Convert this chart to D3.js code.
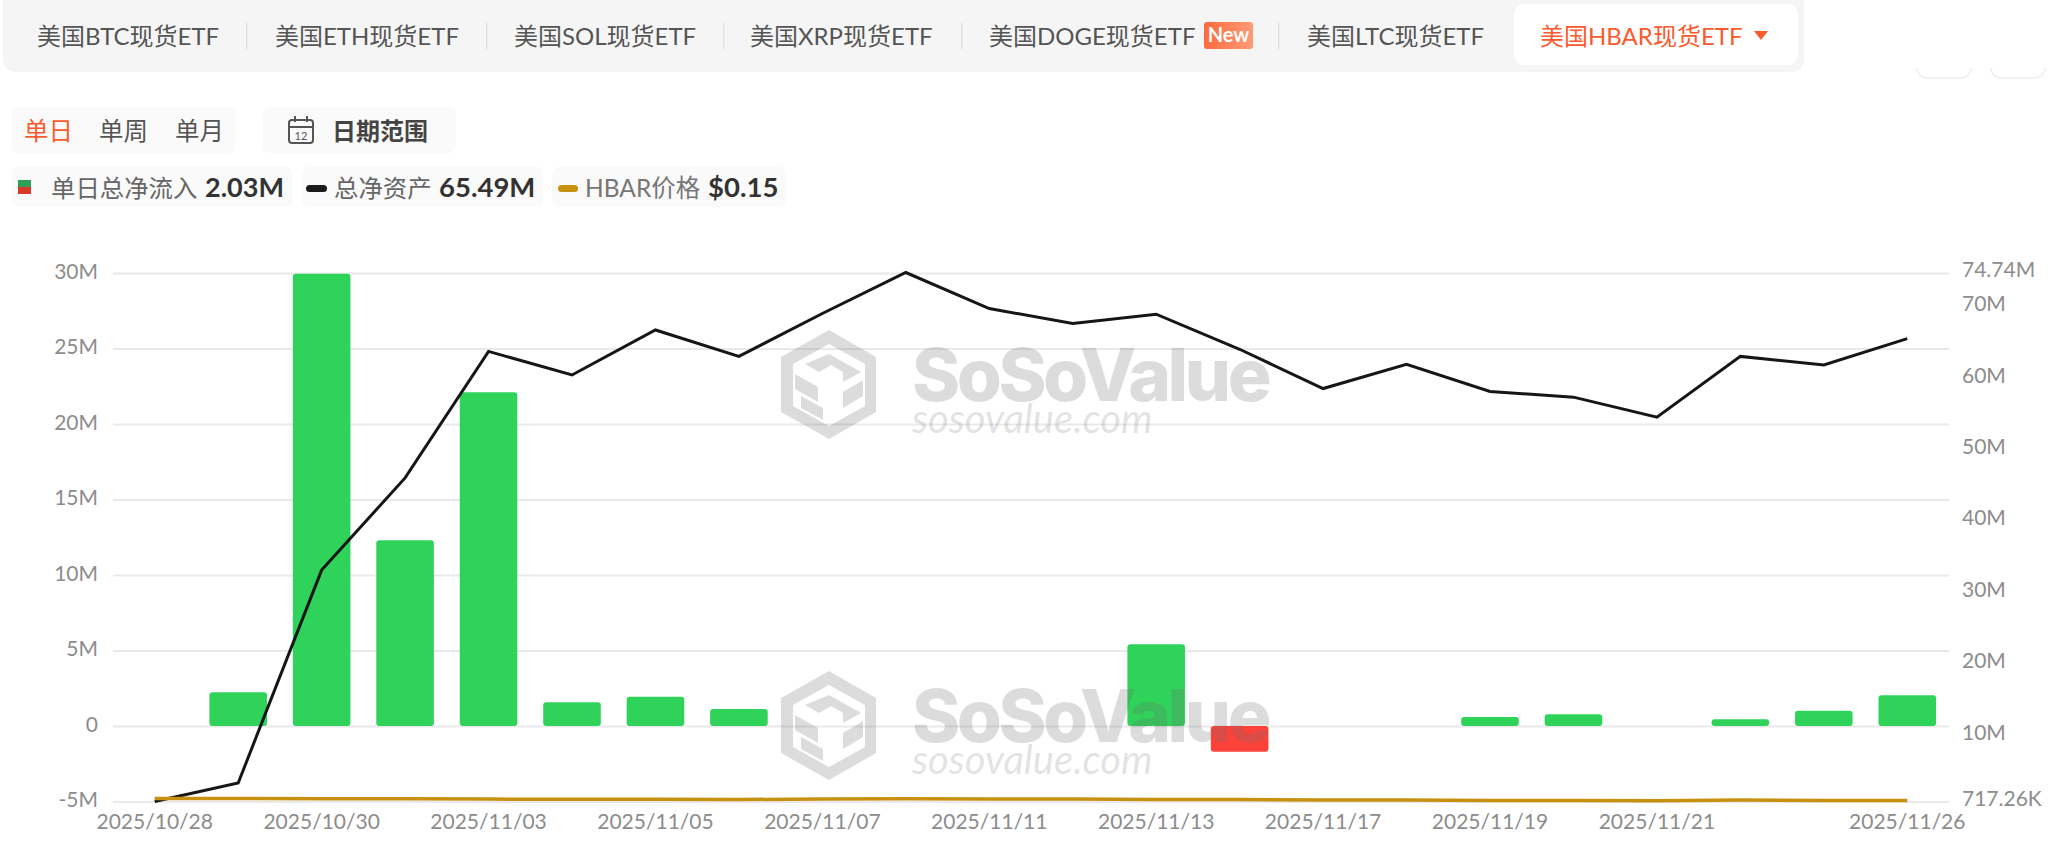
<!DOCTYPE html>
<html><head><meta charset="utf-8">
<style>
html,body{margin:0;padding:0;background:#fff;}
svg{display:block;font-family:Lato,"Noto Sans CJK SC",sans-serif;}
</style>
<script src="https://cdn.jsdelivr.net/npm/d3@7"></script>
</head><body>
<svg id="c" width="2048" height="848"></svg>
<script>
const dates=["2025/10/28","2025/10/29","2025/10/30","2025/10/31","2025/11/03","2025/11/04","2025/11/05","2025/11/06","2025/11/07","2025/11/10","2025/11/11","2025/11/12","2025/11/13","2025/11/14","2025/11/17","2025/11/18","2025/11/19","2025/11/20","2025/11/21","2025/11/24","2025/11/25","2025/11/26"];
const netInflow=[0,2.23,29.95,12.3,22.1,1.57,1.94,1.13,0,0,0,0,5.41,-1.7,0,0,0.6,0.77,0,0.44,1.01,2.03];
const netAssets=[0.72,3.3,33.1,46,63.7,60.4,66.7,63,69,74.74,69.7,67.6,68.9,64,58.5,61.9,58.1,57.3,54.5,63,61.8,65.49];
const hbarPrice=[0.19,0.188,0.186,0.187,0.182,0.18,0.181,0.178,0.182,0.186,0.183,0.183,0.179,0.177,0.172,0.173,0.168,0.167,0.163,0.172,0.168,0.166];
const xTickLabels=["2025/10/28","2025/10/30","2025/11/03","2025/11/05","2025/11/07","2025/11/11","2025/11/13","2025/11/17","2025/11/19","2025/11/21","2025/11/26"];
const leftTicks=[-5,0,5,10,15,20,25,30];
const rightTicks=[0.71726,10,20,30,40,50,60,70,74.74];
const tabs=["美国BTC现货ETF","美国ETH现货ETF","美国SOL现货ETF","美国XRP现货ETF","美国DOGE现货ETF","美国LTC现货ETF","美国HBAR现货ETF"];
const tabX=[37,275,514,750,989,1307,1540];
const sepX=[246,486,723,961,1278];
const periods=["单日","单周","单月"];
const periodX=[24,99,175];

const svg=d3.select("#c");
const GRAY="#555",AX="#8c8c8c",OR="#fb5a2e";
const defs=svg.append("defs");
const g=defs.append("linearGradient").attr("id","badge").attr("x1",0).attr("x2",1).attr("y1",0).attr("y2",0);
g.append("stop").attr("offset",0).attr("stop-color","#fd6b3d");
g.append("stop").attr("offset",1).attr("stop-color","#ff9a76");

// tab bar
svg.append("path").attr("d","M3 0H1804V60a12 12 0 0 1-12 12H15a12 12 0 0 1-12-12Z").attr("fill","#f5f5f5");
svg.append("rect").attr("x",1514).attr("y",4).attr("width",284).attr("height",61).attr("rx",10).attr("fill","#fff");
tabs.forEach((t,i)=>svg.append("text").attr("x",tabX[i]).attr("y",45).attr("font-size",24).attr("fill",i===6?OR:GRAY).text(t));
svg.selectAll(".sep").data(sepX).join("rect").attr("x",d=>d).attr("y",23).attr("width",1.5).attr("height",26).attr("fill","#e2e2e2");
svg.append("rect").attr("x",1204).attr("y",22).attr("width",49).attr("height",27).attr("rx",3).attr("fill","url(#badge)");
svg.append("text").attr("x",1228.5).attr("y",42).attr("text-anchor","middle").attr("font-size",20).attr("font-weight",700).attr("fill","#fff").text("New");
svg.append("path").attr("d","M1754 31H1768L1761 40Z").attr("fill",OR);
[1917,1991].forEach(x=>svg.append("path").attr("d",`M${x} 70v-2a10 10 0 0 0 10 10h34a10 10 0 0 0 10-10v2`).attr("fill","none").attr("stroke","#eee").attr("stroke-width",1.5));

// period buttons
svg.append("rect").attr("x",12).attr("y",107).attr("width",223).attr("height",46).attr("rx",7).attr("fill","#fafafa");
svg.append("rect").attr("x",263).attr("y",107).attr("width",193).attr("height",46).attr("rx",7).attr("fill","#fafafa");
periods.forEach((p,i)=>svg.append("text").attr("x",periodX[i]).attr("y",140).attr("font-size",24.5).attr("fill",i===0?OR:GRAY).text(p));
const cal=svg.append("g").attr("fill","none").attr("stroke","#555").attr("stroke-width",2);
cal.append("rect").attr("x",289).attr("y",120).attr("width",24).attr("height",23).attr("rx",3);
cal.append("path").attr("d","M289 127H313M295 116V122M307 116V122");
svg.append("text").attr("x",301).attr("y",140).attr("text-anchor","middle").attr("font-size",11).attr("fill","#555").text("12");
svg.append("text").attr("x",332).attr("y",140).attr("font-size",24).attr("font-weight",700).attr("fill","#444").text("日期范围");

// legend
[[12,281],[302,241],[552,234]].forEach(([x,w])=>svg.append("rect").attr("x",x).attr("y",167).attr("width",w).attr("height",40).attr("rx",7).attr("fill","#fafafa"));
svg.append("rect").attr("x",18).attr("y",180).attr("width",13).attr("height",7).attr("fill","#2f9e58");
svg.append("rect").attr("x",18).attr("y",187).attr("width",13).attr("height",7).attr("fill","#d8392b");
svg.append("rect").attr("x",306).attr("y",185).attr("width",21).attr("height",7).attr("rx",3.5).attr("fill","#1a1a1a");
svg.append("rect").attr("x",558).attr("y",185).attr("width",20).attr("height",7).attr("rx",3.5).attr("fill","#c8900f");
[[51,"单日总净流入",24.4,400,"#666"],[205,"2.03M",27,700,"#333"],[334,"总净资产",24.4,400,"#666"],[439,"65.49M",27.5,700,"#333"],[585,"HBAR价格",24.5,400,"#777"],[708,"$0.15",27.5,700,"#333"]]
 .forEach(([x,t,s,w,c])=>svg.append("text").attr("x",x).attr("y",197).attr("font-size",s).attr("font-weight",w).attr("fill",c).text(t));

// chart
const x=d3.scaleBand().domain(dates).range([113,1949]).paddingInner(0.31).paddingOuter(0.155);
const cx=d=>x(d)+x.bandwidth()/2;
const yL=d3.scaleLinear().domain([-5,30]).range([801.5,273]);
const yR=d3.scaleLinear().domain([0.71726,74.74]).range([801.5,272.5]);
const yP=d3.scaleLinear().domain([0.15,0.2]).range([802,797.5]);

const axL=svg.append("g").attr("transform","translate(113,0)")
 .call(d3.axisLeft(yL).tickValues(leftTicks).tickSize(-1836).tickPadding(15).tickFormat(d=>d===0?"0":d+"M"));
axL.select(".domain").remove();
axL.selectAll("line").attr("stroke","#e9e9ec").attr("stroke-width",2);
axL.selectAll("text").attr("font-size",21).attr("fill",AX).attr("font-family","Lato").attr("dy","0.26em");

const axR=svg.append("g").attr("transform","translate(1949,0)")
 .call(d3.axisRight(yR).tickValues(rightTicks).tickSize(0).tickPadding(13).tickFormat(d=>d<1?"717.26K":(d+"M")));
axR.select(".domain").remove();
axR.selectAll("text").attr("font-size",21).attr("fill",AX).attr("font-family","Lato").attr("dy","0.2em");

const axX=svg.append("g").attr("transform","translate(0,802)")
 .call(d3.axisBottom(x).tickValues(xTickLabels).tickSize(0).tickPadding(12));
axX.select(".domain").remove();
axX.selectAll("text").attr("font-size",21).attr("fill",AX).attr("font-family","Lato");

svg.append("g").selectAll("rect").data(dates.map((d,i)=>({d,v:netInflow[i]})).filter(o=>o.v!==0)).join("rect")
 .attr("x",o=>x(o.d)).attr("width",x.bandwidth())
 .attr("y",o=>Math.min(yL(o.v),yL(0))).attr("height",o=>Math.abs(yL(o.v)-yL(0))).attr("rx",3)
 .attr("fill",o=>o.v>=0?"#30d35a":"#fd4239");

// watermark
function mark(tx,ty){
 const w=svg.append("g").attr("transform",`translate(${tx},${ty})`);
 w.append("path").attr("fill-rule","evenodd").attr("fill","rgba(110,110,110,0.24)")
  .attr("d","M48 0L95 27V82L48 109L0 82V27Z M48 14L12 34V76L48 96L84 76V34Z");
 w.append("path").attr("fill","rgba(110,110,110,0.24)").attr("d","M48 24L80 42L62 52V42L50 35L38 42L24 34Z M14 44L37 57V72L14 59Z M82 50V66L62 78V62Z M20 66L42 78V90L20 78Z");
 w.append("text").attr("x",131).attr("y",71).attr("font-family","Inter").attr("font-weight",800).attr("font-size",73).attr("letter-spacing",-3.5).attr("fill","rgba(110,110,110,0.24)").text("SoSoValue");
 w.append("text").attr("x",131).attr("y",103).attr("font-family","Lato").attr("font-style","italic").attr("font-size",40).attr("fill","rgba(110,110,110,0.2)").text("sosovalue.com");
}
mark(781,330);
mark(781,671);

const line=d3.line().x(d=>cx(d.d)).y(d=>d.y);
svg.append("path").datum(dates.map((d,i)=>({d,y:yR(netAssets[i])}))).attr("d",line).attr("fill","none").attr("stroke","#161616").attr("stroke-width",3);
svg.append("path").datum(dates.map((d,i)=>({d,y:yP(hbarPrice[i])}))).attr("d",line).attr("fill","none").attr("stroke","#c8900f").attr("stroke-width",3.5);
</script>
</body></html>
